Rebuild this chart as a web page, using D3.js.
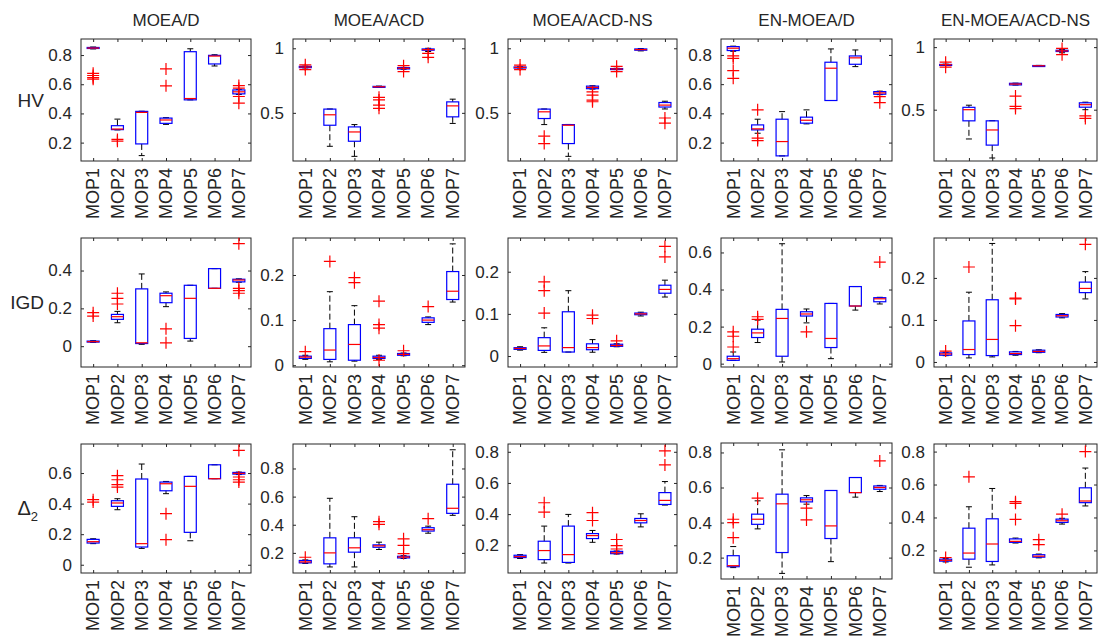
<!DOCTYPE html>
<html>
<head>
<meta charset="utf-8">
<script src="https://cdn.jsdelivr.net/npm/d3@7"></script>
<style>
  body { margin: 0; background: #fff; }
  svg { display: block; }
  text { font-family: "Liberation Sans", Arial, sans-serif; fill: #262626; }
</style>
</head>
<body>
<svg id="chart" width="1102" height="639"></svg>
<script>
var problems = ['MOP1', 'MOP2', 'MOP3', 'MOP4', 'MOP5', 'MOP6', 'MOP7'];
var algorithms = ['MOEA/D', 'MOEA/ACD', 'MOEA/ACD-NS', 'EN-MOEA/D', 'EN-MOEA/ACD-NS'];
var metrics = ['HV', 'IGD', 'Δ2'];

// each box: [lower whisker, q1, median, q3, upper whisker, outliers]
var hvMOEAD = [
  [0.842, 0.845, 0.848, 0.852, 0.855, [0.675, 0.66, 0.645, 0.635]],
  [0.287, 0.289, 0.293, 0.316, 0.361, [0.222, 0.21]],
  [0.111, 0.191, 0.407, 0.414, 0.415, []],
  [0.325, 0.332, 0.355, 0.368, 0.371, [0.705, 0.589]],
  [0.493, 0.493, 0.502, 0.823, 0.843, []],
  [0.725, 0.739, 0.793, 0.798, 0.802, []],
  [0.53, 0.534, 0.548, 0.561, 0.565, [0.591, 0.573, 0.516, 0.47]]
];
var hvACD = [
  [0.848, 0.85, 0.855, 0.86, 0.862, [0.835, 0.872]],
  [0.241, 0.404, 0.485, 0.529, 0.53, []],
  [0.163, 0.28, 0.352, 0.391, 0.409, []],
  [0.698, 0.7, 0.702, 0.705, 0.707, [0.62, 0.6, 0.56, 0.535]],
  [0.838, 0.84, 0.845, 0.85, 0.852, [0.82, 0.865]],
  [0.975, 0.985, 0.99, 0.995, 1.0, [0.96, 0.93]],
  [0.418, 0.469, 0.554, 0.585, 0.606, []]
];
var hvACDNS = [
  [0.848, 0.85, 0.852, 0.855, 0.857, [0.835, 0.87]],
  [0.409, 0.456, 0.508, 0.529, 0.53, [0.319, 0.262]],
  [0.163, 0.262, 0.404, 0.409, 0.41, []],
  [0.684, 0.687, 0.697, 0.707, 0.71, [0.663, 0.637, 0.598, 0.586]],
  [0.835, 0.838, 0.84, 0.843, 0.845, [0.82, 0.86]],
  [0.98, 0.985, 0.99, 0.995, 0.998, []],
  [0.53, 0.545, 0.56, 0.58, 0.59, [0.46, 0.42]]
];
var hvENMOEAD = [
  [0.825, 0.83, 0.846, 0.857, 0.86, [0.793, 0.777, 0.693, 0.64]],
  [0.264, 0.287, 0.294, 0.321, 0.36, [0.424, 0.23, 0.214]],
  [0.109, 0.109, 0.207, 0.36, 0.412, []],
  [0.328, 0.333, 0.353, 0.374, 0.424, []],
  [0.488, 0.488, 0.709, 0.75, 0.841, []],
  [0.72, 0.736, 0.78, 0.793, 0.834, []],
  [0.528, 0.531, 0.54, 0.549, 0.552, [0.514, 0.473]]
];
var hvENACDNS = [
  [0.855, 0.857, 0.86, 0.862, 0.864, [0.84, 0.88]],
  [0.266, 0.411, 0.5, 0.519, 0.536, []],
  [0.114, 0.217, 0.338, 0.411, 0.412, []],
  [0.697, 0.698, 0.705, 0.711, 0.712, [0.609, 0.527, 0.509]],
  [0.848, 0.849, 0.851, 0.853, 0.854, []],
  [0.955, 0.965, 0.97, 0.975, 0.98, [0.94, 0.99]],
  [0.5, 0.52, 0.54, 0.555, 0.56, [0.45, 0.43]]
];

var igdMOEAD = [
  [0.02, 0.022, 0.024, 0.027, 0.029, [0.177, 0.159]],
  [0.124, 0.142, 0.156, 0.168, 0.184, [0.28, 0.253, 0.223]],
  [0.01, 0.014, 0.018, 0.303, 0.382, []],
  [0.209, 0.23, 0.267, 0.28, 0.287, [0.092, 0.018]],
  [0.027, 0.041, 0.253, 0.322, 0.322, []],
  [0.306, 0.306, 0.306, 0.41, 0.41, []],
  [0.338, 0.34, 0.35, 0.354, 0.356, [0.542, 0.306, 0.294, 0.28]]
];
var igdACD = [
  [0.013, 0.015, 0.018, 0.02, 0.022, [0.03]],
  [0.0075, 0.0128, 0.0336, 0.081, 0.163, [0.23]],
  [0.009, 0.011, 0.046, 0.09, 0.132, [0.194, 0.183]],
  [0.013, 0.015, 0.017, 0.02, 0.022, [0.142, 0.09, 0.082, 0.011]],
  [0.021, 0.022, 0.024, 0.026, 0.027, [0.032]],
  [0.09, 0.095, 0.1, 0.105, 0.107, [0.13]],
  [0.14, 0.1456, 0.164, 0.2076, 0.269, []]
];
var igdACDNS = [
  [0.014, 0.0158, 0.018, 0.0198, 0.022, []],
  [0.0087, 0.0134, 0.024, 0.0436, 0.067, [0.176, 0.155, 0.102]],
  [0.0095, 0.0095, 0.02, 0.105, 0.155, []],
  [0.009, 0.015, 0.02, 0.029, 0.039, [0.097, 0.089]],
  [0.022, 0.023, 0.025, 0.028, 0.029, [0.036]],
  [0.095, 0.098, 0.1, 0.102, 0.104, []],
  [0.14, 0.149, 0.158, 0.168, 0.18, [0.26, 0.235]]
];
var igdENMOEAD = [
  [0.018, 0.018, 0.027, 0.04, 0.063, [0.172, 0.148, 0.09]],
  [0.114, 0.141, 0.166, 0.186, 0.235, [0.253, 0.239]],
  [0.009, 0.04, 0.244, 0.293, 0.647, []],
  [0.22, 0.257, 0.268, 0.28, 0.295, [0.172]],
  [0.027, 0.087, 0.136, 0.325, 0.325, []],
  [0.289, 0.311, 0.311, 0.416, 0.416, []],
  [0.322, 0.334, 0.35, 0.356, 0.358, [0.548]]
];
var igdENACDNS = [
  [0.015, 0.016, 0.019, 0.0216, 0.023, [0.026]],
  [0.0096, 0.0176, 0.0296, 0.0976, 0.166, [0.226]],
  [0.012, 0.0152, 0.0536, 0.148, 0.282, []],
  [0.016, 0.0176, 0.02, 0.024, 0.025, [0.152, 0.15, 0.0864]],
  [0.022, 0.023, 0.025, 0.028, 0.029, []],
  [0.105, 0.107, 0.11, 0.113, 0.115, []],
  [0.15, 0.165, 0.175, 0.19, 0.215, [0.28]]
];

var d2MOEAD = [
  [0.138, 0.142, 0.151, 0.166, 0.17, [0.426, 0.41]],
  [0.36, 0.382, 0.404, 0.419, 0.432, [0.583, 0.556, 0.524, 0.508]],
  [0.107, 0.116, 0.138, 0.561, 0.659, []],
  [0.465, 0.484, 0.53, 0.541, 0.545, [0.334, 0.164]],
  [0.157, 0.212, 0.513, 0.578, 0.578, []],
  [0.563, 0.563, 0.563, 0.654, 0.654, []],
  [0.59, 0.593, 0.598, 0.604, 0.606, [0.748, 0.574, 0.556, 0.541]]
];
var d2ACD = [
  [0.125, 0.129, 0.136, 0.146, 0.15, [0.169]],
  [0.1, 0.122, 0.2, 0.307, 0.588, []],
  [0.1, 0.205, 0.236, 0.307, 0.457, []],
  [0.224, 0.24, 0.25, 0.257, 0.276, [0.422, 0.403]],
  [0.16, 0.164, 0.17, 0.176, 0.18, [0.3, 0.253, 0.195]],
  [0.34, 0.355, 0.365, 0.379, 0.39, [0.443]],
  [0.467, 0.481, 0.517, 0.688, 0.933, []]
];
var d2ACDNS = [
  [0.115, 0.121, 0.127, 0.136, 0.14, []],
  [0.086, 0.108, 0.166, 0.226, 0.323, [0.473, 0.413]],
  [0.086, 0.09, 0.14, 0.323, 0.398, []],
  [0.219, 0.243, 0.262, 0.275, 0.295, [0.409, 0.359]],
  [0.144, 0.146, 0.152, 0.161, 0.163, [0.237, 0.198, 0.176]],
  [0.318, 0.344, 0.359, 0.372, 0.402, []],
  [0.458, 0.462, 0.488, 0.538, 0.609, [0.806, 0.716]]
];
var d2ENMOEAD = [
  [0.143, 0.148, 0.154, 0.211, 0.263, [0.419, 0.4, 0.314]],
  [0.364, 0.39, 0.419, 0.448, 0.524, [0.539]],
  [0.11, 0.229, 0.507, 0.562, 0.815, []],
  [0.505, 0.518, 0.53, 0.541, 0.554, [0.482, 0.415]],
  [0.177, 0.309, 0.381, 0.583, 0.583, []],
  [0.545, 0.571, 0.571, 0.657, 0.657, []],
  [0.577, 0.59, 0.6, 0.609, 0.612, [0.752]]
];
var d2ENACDNS = [
  [0.13, 0.135, 0.14, 0.147, 0.15, [0.157]],
  [0.098, 0.147, 0.184, 0.335, 0.465, [0.647]],
  [0.112, 0.133, 0.239, 0.392, 0.576, []],
  [0.245, 0.249, 0.255, 0.27, 0.275, [0.496, 0.486, 0.388]],
  [0.155, 0.159, 0.165, 0.174, 0.178, [0.265, 0.235]],
  [0.36, 0.37, 0.38, 0.39, 0.395, [0.42]],
  [0.47, 0.49, 0.5, 0.58, 0.7, [0.8]]
];

// y-axis limits and tick values per panel (row = metric, column = algorithm)
var hvLimits = [[0.074, 0.91], [0.127, 1.072], [0.127, 1.072], [0.074, 0.909], [0.09, 1.065]];
var igdLimits = [[-0.11, 0.572], [-0.004, 0.282], [-0.026, 0.28], [-0.018, 0.678], [-0.012, 0.295]];
var d2Limits = [[-0.054, 0.79], [0.057, 0.974], [0.022, 0.85], [0.078, 0.854], [0.063, 0.846]];

var hvTicks = [[0.2, 0.4, 0.6, 0.8], [0.5, 1], [0.5, 1], [0.2, 0.4, 0.6, 0.8], [0.5, 1]];
var igdTicks = [[0, 0.2, 0.4], [0, 0.1, 0.2], [0, 0.1, 0.2], [0, 0.2, 0.4, 0.6], [0, 0.1, 0.2]];
var d2Ticks = [[0, 0.2, 0.4, 0.6], [0.2, 0.4, 0.6, 0.8], [0.2, 0.4, 0.6, 0.8], [0.2, 0.4, 0.6, 0.8], [0.2, 0.4, 0.6, 0.8]];

var panelData = [
  [hvMOEAD, hvACD, hvACDNS, hvENMOEAD, hvENACDNS],
  [igdMOEAD, igdACD, igdACDNS, igdENMOEAD, igdENACDNS],
  [d2MOEAD, d2ACD, d2ACDNS, d2ENMOEAD, d2ENACDNS]
];
var panelLimits = [hvLimits, igdLimits, d2Limits];
var panelTicks = [hvTicks, igdTicks, d2Ticks];

// layout
var colX = [[81, 251], [293, 465], [508, 677], [721, 892], [934, 1097]];
var rowY = [[39, 161], [238, 367], [444, 573]];
// the EN-MOEA/D delta panel sits a little taller than its neighbours
var rowYOverride = { '2,3': [443, 579] };
var axisColor = '#262626',
    boxWidth = 12,
    capWidth = 6,
    plusSize = 6;

var svg = d3.select('#chart');

function fmt(v) {
  return d3.format('~g')(+v.toFixed(2));
}

panelData.forEach(function(rowData, r) {
  rowData.forEach(function(stats, c) {
    var ry = rowYOverride[r + ',' + c] || rowY[r];
    var x0 = colX[c][0], x1 = colX[c][1],
        y0 = ry[0], y1 = ry[1];

    var x = d3.scaleLinear().domain([0.5, 7.5]).range([x0, x1]);
    var y = d3.scaleLinear().domain(panelLimits[r][c]).range([y1, y0]);

    var g = svg.append('g').attr('class', 'panel');

    // frame ticks: bottom / top / left / right, pointing inwards
    var xb = g.append('g')
      .attr('transform', 'translate(0,' + y1 + ')')
      .call(d3.axisBottom(x).tickValues(d3.range(1, 8)).tickSize(-3).tickFormat(''));
    var xt = g.append('g')
      .attr('transform', 'translate(0,' + y0 + ')')
      .call(d3.axisTop(x).tickValues(d3.range(1, 8)).tickSize(-3).tickFormat(''));
    var yl = g.append('g')
      .attr('transform', 'translate(' + x0 + ',0)')
      .call(d3.axisLeft(y).tickValues(panelTicks[r][c]).tickSize(-3).tickPadding(9).tickFormat(fmt));
    var yr = g.append('g')
      .attr('transform', 'translate(' + x1 + ',0)')
      .call(d3.axisRight(y).tickValues(panelTicks[r][c]).tickSize(-3).tickFormat(''));

    [xb, xt, yl, yr].forEach(function(a) {
      a.select('.domain').remove();
      a.selectAll('.tick line').attr('stroke', axisColor);
    });
    yl.selectAll('.tick text')
      .attr('font-size', 17)
      .attr('fill', axisColor)
      .style('font-family', '"Liberation Sans", Arial, sans-serif');

    g.append('rect')
      .attr('x', x0).attr('y', y0)
      .attr('width', x1 - x0).attr('height', y1 - y0)
      .attr('fill', 'none')
      .attr('stroke', axisColor)
      .attr('stroke-width', 1);

    // x tick labels, rotated
    g.selectAll('text.mop')
      .data(problems)
      .enter().append('text')
      .attr('class', 'mop')
      .attr('transform', function(d, i) {
        return 'translate(' + x(i + 1) + ',' + (y1 + 7) + ') rotate(-90)';
      })
      .attr('dy', '0.35em')
      .attr('text-anchor', 'end')
      .attr('font-size', 18)
      .text(function(d) { return d; });

    // boxes
    var boxes = g.selectAll('g.box')
      .data(stats)
      .enter().append('g')
      .attr('class', 'box')
      .attr('transform', function(d, i) { return 'translate(' + x(i + 1) + ',0)'; });

    // whiskers (dashed)
    boxes.append('line')
      .attr('x1', 0).attr('x2', 0)
      .attr('y1', function(d) { return y(d[3]); })
      .attr('y2', function(d) { return y(d[4]); })
      .attr('stroke', '#000').attr('stroke-dasharray', '6,3');
    boxes.append('line')
      .attr('x1', 0).attr('x2', 0)
      .attr('y1', function(d) { return y(d[1]); })
      .attr('y2', function(d) { return y(d[0]); })
      .attr('stroke', '#000').attr('stroke-dasharray', '6,3');

    // caps
    boxes.append('line')
      .attr('x1', -capWidth / 2).attr('x2', capWidth / 2)
      .attr('y1', function(d) { return y(d[4]); })
      .attr('y2', function(d) { return y(d[4]); })
      .attr('stroke', '#000');
    boxes.append('line')
      .attr('x1', -capWidth / 2).attr('x2', capWidth / 2)
      .attr('y1', function(d) { return y(d[0]); })
      .attr('y2', function(d) { return y(d[0]); })
      .attr('stroke', '#000');

    // box
    boxes.append('rect')
      .attr('x', -boxWidth / 2)
      .attr('width', boxWidth)
      .attr('y', function(d) { return y(d[3]); })
      .attr('height', function(d) { return Math.max(1, y(d[1]) - y(d[3])); })
      .attr('fill', 'none')
      .attr('stroke', '#0000ff')
      .attr('stroke-width', 1.2);

    // median
    boxes.append('line')
      .attr('x1', -boxWidth / 2).attr('x2', boxWidth / 2)
      .attr('y1', function(d) { return y(d[2]); })
      .attr('y2', function(d) { return y(d[2]); })
      .attr('stroke', '#ff0000')
      .attr('stroke-width', 1.2);

    // outliers as '+'
    boxes.each(function(d) {
      var b = d3.select(this);
      d[5].forEach(function(v) {
        var py = y(v);
        b.append('path')
          .attr('d', 'M' + (-plusSize) + ',' + py + 'H' + plusSize +
                     'M0,' + (py - plusSize) + 'V' + (py + plusSize))
          .attr('stroke', '#ff0000')
          .attr('stroke-width', 1.2)
          .attr('fill', 'none');
      });
    });

    // column titles
    if (r === 0) {
      svg.append('text')
        .attr('x', (x0 + x1) / 2)
        .attr('y', 26)
        .attr('text-anchor', 'middle')
        .attr('font-size', 17)
        .text(algorithms[c]);
    }

    // row labels
    if (c === 0) {
      var lab = svg.append('text')
        .attr('x', metrics[r] === 'Δ2' ? 38 : 44)
        .attr('y', (y0 + y1) / 2)
        .attr('dy', '0.35em')
        .attr('text-anchor', 'end')
        .attr('font-size', 19);
      if (metrics[r] === 'Δ2') {
        lab.append('tspan').attr('font-size', 20).text('Δ');
        lab.append('tspan').attr('font-size', 13).attr('dy', '0.45em').text('2');
      } else {
        lab.text(metrics[r]);
      }
    }
  });
});
</script>
</body>
</html>
